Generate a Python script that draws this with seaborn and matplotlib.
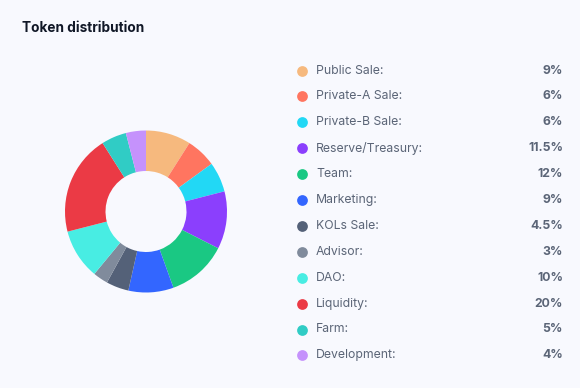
import matplotlib
matplotlib.use("Agg")
import matplotlib.pyplot as plt
import seaborn as sns

categories = ["Public Sale", "Private-A Sale", "Private-B Sale", "Reserve/Treasury",
              "Team", "Marketing", "KOLs Sale", "Advisor", "DAO", "Liquidity",
              "Farm", "Development"]
values = [9, 6, 6, 11.5, 12, 9, 4.5, 3, 10, 20, 5, 4]
value_labels = ["9%", "6%", "6%", "11.5%", "12%", "9%", "4.5%", "3%", "10%", "20%", "5%", "4%"]
colors = ["#F6B97E", "#FF7560", "#22D8F5", "#8B3FFD", "#1AC883", "#3366FF",
          "#546178", "#808B9C", "#48EDE3", "#EB3A45", "#30CCC5", "#C592FC"]

BG = "#F8F9FE"
sns.set_theme(style="white")
plt.rcParams['font.family'] = ['Inter', 'DejaVu Sans']

W, H = 580, 388
fig = plt.figure(figsize=(W / 100, H / 100), dpi=100, facecolor=BG)

fig.text(22 / W, 1 - 28 / H, "Token distribution", fontsize=9.8, fontweight="bold",
         color="#111827", va="center", ha="left")

# donut
cx, cy, r = 146, 211.5, 81
ax = fig.add_axes([(cx - r) / W, 1 - (cy + r) / H, 2 * r / W, 2 * r / H])
ax.set_facecolor(BG)
ax.pie(values, colors=colors, startangle=90, counterclock=False, radius=1,
       wedgeprops=dict(width=0.5, linewidth=0), frame=False)
ax.set_xlim(-1, 1)
ax.set_ylim(-1, 1)
ax.axis("off")

# legend
lax = fig.add_axes([0, 0, 1, 1])
lax.set_xlim(0, W)
lax.set_ylim(H, 0)
lax.axis("off")
lax.patch.set_alpha(0)
y0, dy = 70.5, 25.9
for i, (cat, lab, c) in enumerate(zip(categories, value_labels, colors)):
    y = y0 + i * dy
    lax.scatter([302], [y], s=60, color=c, linewidths=0)
    lax.text(316, y, cat + ":", fontsize=8.8, color="#5B6577", va="center", ha="left")
    lax.text(563, y, lab, fontsize=8.8, color="#5B6577", fontweight="bold",
             va="center", ha="right")

fig.savefig("out.png", dpi=100, facecolor=BG)
